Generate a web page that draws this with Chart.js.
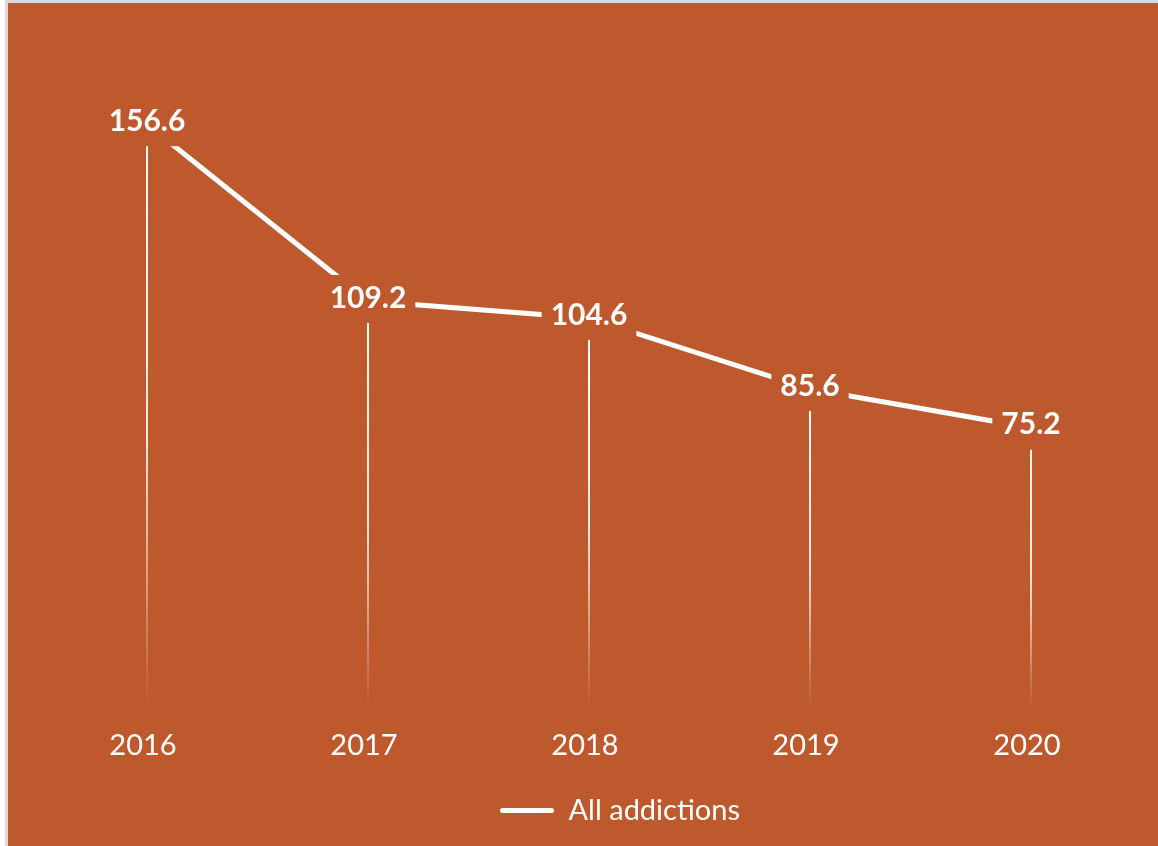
<!DOCTYPE html>
<html>
<head>
<meta charset="utf-8">
<script src="https://cdn.jsdelivr.net/npm/chart.js@4"></script>
<style>
  html, body { margin: 0; padding: 0; background: #ffffff; }
  #frame { position: absolute; left: 5px; top: 0; width: 1153px; height: 846px;
           border-left: 3px solid #d9d9d9; border-top: 3px solid #d9d9d9; box-sizing: border-box; background: #BE592D; }
  #wrap { position: absolute; left: 8px; top: 3px; width: 1150px; height: 843px; }
</style>
</head>
<body>
<div id="frame"></div>
<div id="wrap"><canvas id="c"></canvas></div>
<script>
const categories = ['2016', '2017', '2018', '2019', '2020'];
const allAddictions = [156.6, 109.2, 104.6, 85.6, 75.2];
const seriesName = 'All addictions';

const BG = '#BE592D';
const FONT = 'Lato, "Open Sans", sans-serif';

const dropLines = {
  id: 'dropLines',
  beforeDatasetsDraw(chart) {
    const ctx = chart.ctx, area = chart.chartArea;
    const meta = chart.getDatasetMeta(0);
    ctx.save();
    meta.data.forEach(pt => {
      const g = ctx.createLinearGradient(0, pt.y, 0, area.bottom);
      g.addColorStop(0, 'rgba(255,255,255,1)');
      g.addColorStop(0.55, 'rgba(255,255,255,0.85)');
      g.addColorStop(1, 'rgba(255,255,255,0)');
      ctx.strokeStyle = g;
      ctx.lineWidth = 2;
      ctx.beginPath();
      ctx.moveTo(pt.x, pt.y);
      ctx.lineTo(pt.x, area.bottom);
      ctx.stroke();
    });
    ctx.restore();
  }
};

const dataLabels = {
  id: 'dataLabels',
  afterDatasetsDraw(chart) {
    const ctx = chart.ctx;
    const meta = chart.getDatasetMeta(0);
    const vals = chart.data.datasets[0].data;
    ctx.save();
    ctx.font = 'bold 30px ' + FONT;
    ctx.textAlign = 'center';
    ctx.textBaseline = 'middle';
    meta.data.forEach((pt, i) => {
      const txt = vals[i].toFixed(1);
      const w = ctx.measureText(txt).width;
      ctx.fillStyle = BG;
      ctx.fillRect(pt.x - w / 2 - 9, pt.y - 26, w + 18, 48);
      ctx.fillStyle = '#ffffff';
      ctx.fillText(txt, pt.x, pt.y - 3);
    });
    ctx.restore();
  }
};

const legendShift = {
  id: 'legendShift',
  afterLayout(chart) {
    if (chart.legend) { chart.legend.left += 62; }
  }
};

new Chart(document.getElementById('c'), {
  type: 'line',
  data: {
    labels: categories,
    datasets: [{
      label: seriesName,
      data: allAddictions,
      borderColor: '#ffffff',
      backgroundColor: '#ffffff',
      borderWidth: 5,
      pointRadius: 0,
      pointHoverRadius: 0,
      tension: 0,
      fill: false
    }]
  },
  options: {
    responsive: true,
    maintainAspectRatio: false,
    animation: false,
    events: [],
    layout: { padding: { left: 28.5, right: 16.5, top: 34, bottom: 11 } },
    scales: {
      x: {
        offset: true,
        grid: { display: false, drawTicks: false },
        border: { display: false },
        ticks: { color: '#ffffff', font: { family: FONT, size: 29 }, padding: 20, labelOffset: -4 }
      },
      y: {
        display: false,
        min: 0,
        max: 180
      }
    },
    plugins: {
      legend: {
        position: 'bottom',
        labels: {
          color: '#ffffff',
          font: { family: FONT, size: 29 },
          boxWidth: 54,
          boxHeight: 5,
          padding: 13,
          useBorderRadius: true,
          generateLabels: (chart) => [{
            text: seriesName,
            fillStyle: '#ffffff',
            strokeStyle: '#ffffff',
            lineWidth: 0,
            hidden: false,
            datasetIndex: 0,
            borderRadius: 2.5,
            fontColor: '#ffffff'
          }]
        }
      },
      tooltip: { enabled: false }
    }
  },
  plugins: [dropLines, dataLabels, legendShift]
});
</script>
</body>
</html>
